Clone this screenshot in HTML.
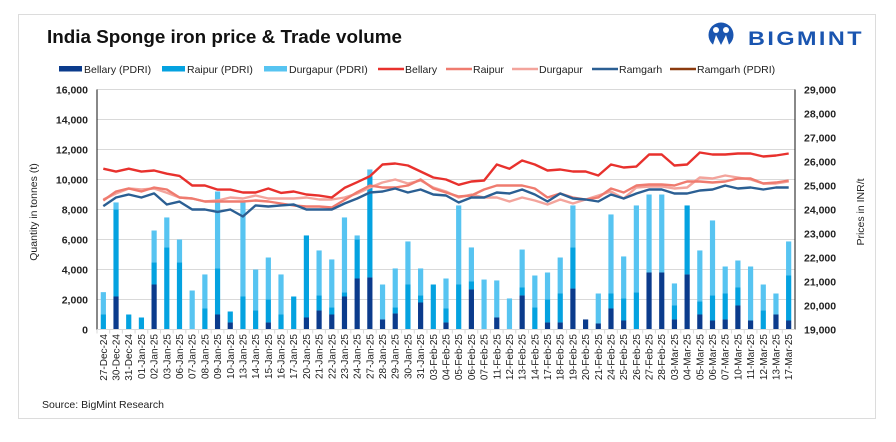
<!DOCTYPE html>
<html>
<head>
<meta charset="utf-8">
<style>
  html,body{margin:0;padding:0;background:#fff;}
  body{width:896px;height:437px;overflow:hidden;font-family:"Liberation Sans",sans-serif;}
  svg text{font-family:"Liberation Sans",sans-serif;}
</style>
</head>
<body>
<svg id="chart" width="896" height="437" viewBox="0 0 896 437" xmlns="http://www.w3.org/2000/svg">
  <rect x="18.5" y="14.5" width="857" height="404" fill="#fff" stroke="#dcdcdc" stroke-width="1"/>
  <text x="47" y="43" font-size="18" font-weight="bold" fill="#111" textLength="355" lengthAdjust="spacingAndGlyphs">India Sponge iron price &amp; Trade volume</text>
  <g>
    <circle cx="721" cy="35" r="12.5" fill="#1a55b0"/>
    <circle cx="716" cy="30" r="3" fill="#fff"/>
    <circle cx="726" cy="30" r="3" fill="#fff"/>
    <path d="M712 48 L716 35 L721 45 L726 35 L730 48 Z" fill="#fff"/>
    <text x="748" y="45" font-size="19" font-weight="bold" fill="#1a55b0" textLength="116" lengthAdjust="spacingAndGlyphs" letter-spacing="2">BIGMINT</text>
  </g>
  <g id="legend" font-size="10.5" fill="#222"></g>
  <g id="grid"></g>
  <g id="bars"></g>
  <g id="lines"></g>
  <g id="axes"></g>
  <text transform="translate(37,212) rotate(-90)" text-anchor="middle" font-size="10.5" fill="#222">Quantity in tonnes (t)</text>
  <text transform="translate(864,212) rotate(-90)" text-anchor="middle" font-size="10.5" fill="#222">Prices in INR/t</text>
  <text x="42" y="408" font-size="10.5" fill="#222">Source: BigMint Research</text>
</svg>
<script>
const categories = ["27-Dec-24","30-Dec-24","31-Dec-24","01-Jan-25","02-Jan-25","03-Jan-25","06-Jan-25","07-Jan-25","08-Jan-25","09-Jan-25","10-Jan-25","13-Jan-25","14-Jan-25","15-Jan-25","16-Jan-25","17-Jan-25","20-Jan-25","21-Jan-25","22-Jan-25","23-Jan-25","24-Jan-25","27-Jan-25","28-Jan-25","29-Jan-25","30-Jan-25","31-Jan-25","03-Feb-25","04-Feb-25","05-Feb-25","06-Feb-25","07-Feb-25","11-Feb-25","12-Feb-25","13-Feb-25","14-Feb-25","17-Feb-25","18-Feb-25","19-Feb-25","20-Feb-25","21-Feb-25","24-Feb-25","25-Feb-25","26-Feb-25","27-Feb-25","28-Feb-25","03-Mar-25","04-Mar-25","05-Mar-25","06-Mar-25","07-Mar-25","10-Mar-25","11-Mar-25","12-Mar-25","13-Mar-25","17-Mar-25"];
const bellaryPdri = [0,2200,0,0,3000,0,0,0,0,1000,470,0,0,470,0,0,800,1270,1000,2200,3400,3470,670,1070,0,1800,0,470,0,2670,0,800,0,2270,0,470,470,2730,670,400,1400,600,0,3800,3800,670,3670,1000,600,670,1600,600,0,1000,600];
const raipurPdri = [1000,5800,1000,800,1470,5470,4470,0,1400,3070,730,2200,1270,1530,1000,2200,5470,1000,470,270,2600,6730,0,400,3000,470,3000,930,3000,530,0,0,0,530,1470,1530,1930,2740,0,0,1000,1470,2470,0,0,930,4600,870,1670,1730,1200,0,1270,0,3000];
const durgapurPdri = [1490,470,0,0,2130,2000,1530,2600,2270,5130,0,6270,2730,2800,2670,0,0,3000,3200,5000,270,470,2330,2600,2870,1800,0,2000,5270,2270,3330,2470,2070,2530,2130,1800,2400,2800,0,2000,5270,2800,5800,5200,5200,1470,0,3400,5000,1800,1800,3600,1730,1400,2270];
const bellaryPrice = [25700,25580,25700,25580,25625,25490,25400,25000,25000,24830,24830,24710,24710,24875,24690,24750,24625,24580,24500,24900,25139,25389,25875,25917,25833,25583,25333,25250,25028,25167,25208,25875,25694,26042,25875,25625,25667,25583,25583,25417,25875,25750,25792,26292,26292,25833,25875,26375,26292,26292,26333,26333,26208,26250,26333];
const raipurPrice = [24375,24750,24875,24750,24917,24833,24500,24458,24333,24333,24333,24333,24375,24333,24250,24167,24125,24125,24083,24400,24722,25000,24917,24917,25000,25250,24875,24708,24542,24583,24833,25000,25000,25000,24875,24500,24667,24500,24417,24500,24875,24708,25000,25042,25042,25000,25167,25167,25125,25167,25292,25292,25083,25125,25208];
const durgapurPrice = [24417,24667,24875,24833,24875,24694,24500,24458,24333,24375,24500,24458,24583,24458,24458,24458,24500,24417,24417,24500,24667,24917,25125,25250,25083,25208,24917,24750,24500,24625,24500,24500,24333,24500,24375,24208,24417,24250,24417,24583,24750,24458,24917,24958,24958,24875,24917,25333,25292,25417,25333,25250,25083,25083,25167];
const ramgarhPrice = [24140,24500,24625,24500,24670,24210,24330,24000,24000,23900,24000,23710,24170,24125,24170,24210,24000,24000,24000,24250,24458,24708,24750,24875,24708,24833,24625,24583,24292,24500,24500,24708,24667,24833,24625,24333,24667,24458,24417,24333,24625,24458,24667,24833,24833,24667,24667,24792,24833,25000,24875,24917,24833,24917,24917];
const leftTicks = [0,2000,4000,6000,8000,10000,12000,14000,16000];
const rightTicks = [19000,20000,21000,22000,23000,24000,25000,26000,27000,28000,29000];

const NS = "http://www.w3.org/2000/svg";
const X0 = 97, X1 = 795, YB = 329.5, YT = 89.5;
const band = (X1 - X0) / categories.length;
function xc(i){ return X0 + band*(i+0.5); }
function yl(v){ return YB - (v/16000)*(YB-YT); }
function yr(v){ return YB - ((v-19000)/10000)*(YB-YT); }
function mk(tag, attrs, parent){
  const e = document.createElementNS(NS, tag);
  for (const k in attrs) e.setAttribute(k, attrs[k]);
  parent.appendChild(e);
  return e;
}
function fmt(v){ return v.toLocaleString("en-US"); }

const grid = document.getElementById("grid");
const axes = document.getElementById("axes");
leftTicks.forEach(function(t){
  if (t > 0) {
    const g = mk("line", {x1:X0, x2:X1, y1:yl(t), y2:yl(t), stroke:"#d9d9d9", "stroke-width":1}, grid);
    
    
  }
  const lb = mk("text", {x:88, y:yl(t)+4, "text-anchor":"end", "font-size":"10.5", "font-weight":"bold", fill:"#222"}, axes);
  lb.textContent = fmt(t);
  
  
});
rightTicks.forEach(function(t){
  const lb = mk("text", {x:804, y:yr(t)+4, "font-size":"10.5", "font-weight":"bold", fill:"#222"}, axes);
  lb.textContent = fmt(t);
  
  
});
const la = mk("line", {x1:X0, x2:X0, y1:YT, y2:YB, stroke:"#111", "stroke-width":1}, axes);


const ra = mk("line", {x1:X1, x2:X1, y1:YT, y2:YB, stroke:"#111", "stroke-width":1}, axes);


const ba = mk("line", {x1:X0, x2:X1, y1:YB, y2:YB, stroke:"#d9d9d9", "stroke-width":1}, axes);



categories.forEach(function(c, i){
  const tk = mk("line", {x1:X0+band*i, x2:X0+band*i, y1:YB, y2:YB+4, stroke:"#d9d9d9"}, axes);
  
  
  const x = xc(i)+3.5, y = 334;
  const lb = mk("text", {transform:"translate("+x+","+y+") rotate(-90)", "text-anchor":"end", "font-size":"10", fill:"#222"}, axes);
  lb.textContent = c;
  
  
});

const bars = document.getElementById("bars");
const bw = 5.2;
const stacks = [[bellaryPdri,"#0b3b8c","bar-bellary-pdri"],[raipurPdri,"#04a2e0","bar-raipur-pdri"],[durgapurPdri,"#57c4f1","bar-durgapur-pdri"]];
categories.forEach(function(c, i){
  let base = 0;
  stacks.forEach(function(s){
    const v = s[0][i];
    if (v > 0) {
      const r = mk("rect", {x:xc(i)-bw/2, y:yl(base+v), width:bw, height:yl(base)-yl(base+v), fill:s[1]}, bars);
      
      
    }
    base += v;
  });
});

const lines = document.getElementById("lines");
const series = [[durgapurPrice,"#f3a49c","line-durgapur"],[raipurPrice,"#ef7b6f","line-raipur"],[ramgarhPrice,"#2b5f93","line-ramgarh"],[bellaryPrice,"#e8312d","line-bellary"]];
series.forEach(function(s){
  const pts = s[0].map(function(v,i){ return xc(i).toFixed(1)+","+yr(v).toFixed(1); }).join(" ");
  const p = mk("polyline", {points:pts, fill:"none", stroke:s[1], "stroke-width":2.4, "stroke-linejoin":"round"}, lines);
  
  
});

const legend = document.getElementById("legend");
const legendItems = [
  ["Bellary (PDRI)","#0b3b8c","box",59],
  ["Raipur (PDRI)","#04a2e0","box",162],
  ["Durgapur (PDRI)","#57c4f1","box",264],
  ["Bellary","#e8312d","line",378],
  ["Raipur","#ef7b6f","line",446],
  ["Durgapur","#f3a49c","line",512],
  ["Ramgarh","#2b5f93","line",592],
  ["Ramgarh (PDRI)","#8b3a0e","line",670]
];
legendItems.forEach(function(it){
  const g = mk("g", {}, legend);
  
  
  if (it[2] === "box") {
    mk("rect", {x:it[3], y:66, width:23, height:5.5, fill:it[1]}, g);
    const t = mk("text", {x:it[3]+25, y:73, "font-size":"10.5", fill:"#222"}, g);
    t.textContent = it[0];
  } else {
    mk("line", {x1:it[3], x2:it[3]+26, y1:69, y2:69, stroke:it[1], "stroke-width":2.5}, g);
    const t = mk("text", {x:it[3]+27, y:73, "font-size":"10.5", fill:"#222"}, g);
    t.textContent = it[0];
  }
});
</script>
</body>
</html>
